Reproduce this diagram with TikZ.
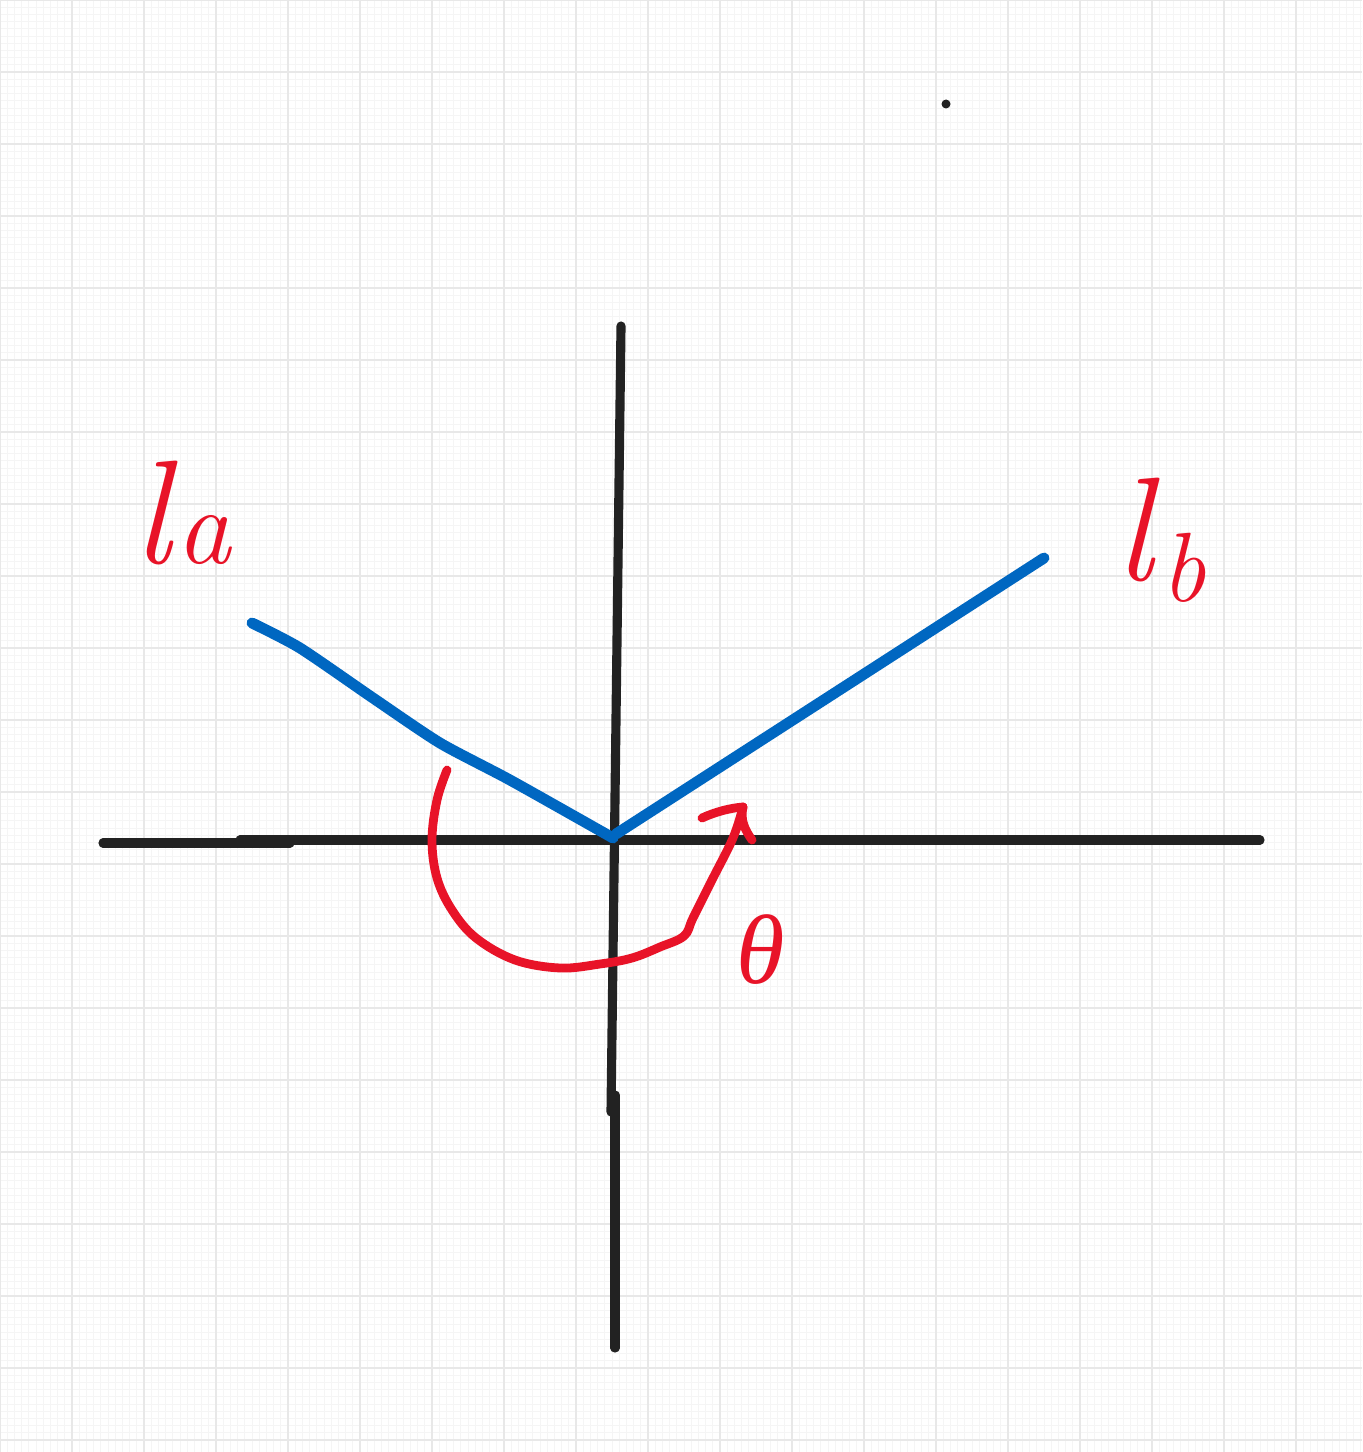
\documentclass[tikz,border=0pt]{standalone}
\usepackage{fontspec}
\newfontfamily\greekfont{Liberation Serif}
\definecolor{axisblack}{HTML}{222222}
\definecolor{penblue}{HTML}{0067C1}
\definecolor{penred}{HTML}{E81328}
\definecolor{gridmajor}{HTML}{E8E8E8}
\definecolor{gridminor}{HTML}{F5F5F5}
\tikzset{
  axisline/.style={draw=axisblack, line width=2.6pt, line cap=round, line join=round},
  blueline/.style={draw=penblue, line width=3.1pt, line cap=round, line join=round},
  redline/.style={draw=penred, line width=2.5pt, line cap=round, line join=round},
  hand/.style={text=penred, inner sep=0pt},
}
\begin{document}
\begin{tikzpicture}[x=0.01cm, y=-0.01cm]
\useasboundingbox (0,0) rectangle (1362,1452);
\fill[white] (0,0) rectangle (1362,1452);
% grid
\foreach \i in {0,...,200} {
  \draw[gridminor, line width=0.25pt] ({\i*7.2},0) -- ({\i*7.2},1452);
  \draw[gridminor, line width=0.25pt] (0,{\i*7.2}) -- (1362,{\i*7.2});
}
\foreach \i in {0,...,20} {
  \draw[gridmajor, line width=0.7pt] ({\i*72},0) -- ({\i*72},1452);
  \draw[gridmajor, line width=0.7pt] (0,{\i*72}) -- (1362,{\i*72});
}

% axes
\coordinate (xl) at (103,843);
\coordinate (xm) at (290,843);
\coordinate (xs) at (240,840);
\coordinate (xr) at (1260,840);
\coordinate (yt) at (621,326);
\coordinate (ym) at (611,1112);
\coordinate (ys) at (615,1095);
\coordinate (yb) at (615,1348);
\coordinate (o) at (613,838);
\draw[axisline] (xl) -- (xm);
\draw[axisline] (xs) -- (xr);
\draw[axisline] (yt) -- (ym);
\draw[axisline] (ys) -- (yb);

% dot
\fill[axisblack] (946,104) circle (4.5);

% blue lines
\coordinate (la) at (252,623);
\coordinate (lbend) at (1044,558);
\coordinate (ob) at (616,834);
\draw[blueline] plot[smooth, tension=0.4] coordinates {(la) (300,648) (373,698) (440,743) (510,780) (o)};
\draw[blueline, line width=1.4pt] (la) .. controls (290,644) and (320,660) .. (345,677);
\draw[blueline] (ob) -- (lbend);

% red arc with arrow
\coordinate (as) at (447,770);
\coordinate (ae) at (743,807);
\draw[redline] plot[smooth, tension=0.6] coordinates {
  (as) (437,800) (432,840) (437,878) (452,910) (476,938) (515,960) (560,968)
  (600,964) (632,958) (660,947) (684,936) (693,918) (712,880) (733,838) (ae)};
\draw[redline] (ae) .. controls (730,808) and (715,812) .. (702,818);
\draw[redline] (ae) .. controls (740,820) and (745,830) .. (752,840);

% labels
\node[hand] (lalabel) at (182,513) {\itshape\fontsize{42}{42}\selectfont l\hspace{0.04em}{\fontsize{31}{31}\selectfont a}};
\node[hand] (lblabel) at (1161,540) {\itshape\fontsize{42}{42}\selectfont l\hspace{0.06em}\raisebox{-0.14em}{\fontsize{28}{28}\selectfont b}};
\node[hand, font=\fontsize{28}{28}\selectfont\greekfont\itshape] (theta) at (761,950) {θ};
\end{tikzpicture}
\end{document}
